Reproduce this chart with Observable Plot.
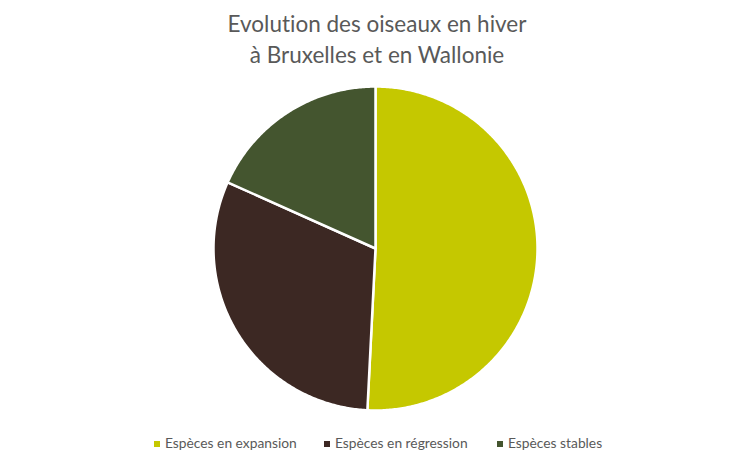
<!DOCTYPE html>
<html>
<head>
<meta charset="utf-8">
<script src="https://cdn.jsdelivr.net/npm/d3@7"></script>
<script src="https://cdn.jsdelivr.net/npm/@observablehq/plot@0.6"></script>
<style>
  html, body { margin: 0; padding: 0; background: #fff; }
  body { width: 754px; height: 466px; overflow: hidden; font-family: Lato, "Open Sans", sans-serif; font-variant-ligatures: none; font-feature-settings: "liga" 0; }
  #title { height: 78px; box-sizing: border-box; padding-top: 8px; text-align: center; color: #595959; font-size: 22.5px; line-height: 31px; }
  #chart { height: 336px; }
  #chart svg { display: block; }
  #legend { position: relative; height: 52px; font-size: 13.8px; color: #595959; }
  .item { position: absolute; top: 20px; white-space: nowrap; }
  .sw { display: inline-block; width: 6px; height: 6px; margin-right: 5px; vertical-align: 1px; }
</style>
</head>
<body>
<div id="title">Evolution des oiseaux en hiver<br>à Bruxelles et en Wallonie</div>
<div id="chart"></div>
<div id="legend"></div>
<script>
const categories = ["Espèces en expansion", "Espèces en régression", "Espèces stables"];
const values = [50.8, 30.9, 18.3];
const colors = ["#c5c800", "#3c2823", "#44552f"];
const legendX = [154, 324, 497];

const pie = d3.pie().sort(null).value(d => d.value);
const arcs = pie(categories.map((c, i) => ({ category: c, value: values[i] })));

// polygon points for each slice, in unit-circle coordinates (angle 0 at top, clockwise)
const pts = [];
arcs.forEach(a => {
  const n = Math.max(2, Math.ceil((a.endAngle - a.startAngle) / 0.01));
  pts.push({ category: a.data.category, x: 0, y: 0 });
  for (let k = 0; k <= n; k++) {
    const t = a.startAngle + (a.endAngle - a.startAngle) * k / n;
    pts.push({ category: a.data.category, x: Math.sin(t), y: Math.cos(t) });
  }
  pts.push({ category: a.data.category, x: 0, y: 0 });
});

const chart = Plot.plot({
  width: 754,
  height: 336,
  marginLeft: 213,
  marginRight: 217,
  marginTop: 8,
  marginBottom: 4,
  x: { domain: [-1, 1], axis: null },
  y: { domain: [-1, 1], axis: null },
  color: { domain: categories, range: colors },
  style: { background: "#fff" },
  marks: [
    Plot.line(pts, {
      x: "x", y: "y", z: "category",
      fill: "category",
      stroke: "#fff",
      strokeWidth: 2.5,
      strokeLinejoin: "round",
      curve: "linear"
    })
  ]
});
document.getElementById("chart").appendChild(chart);

const legend = document.getElementById("legend");
categories.forEach((c, i) => {
  const d = document.createElement("div");
  d.className = "item";
  d.style.left = legendX[i] + "px";
  d.innerHTML = `<span class="sw" style="background:${colors[i]}"></span>${c}`;
  legend.appendChild(d);
});
</script>
</body>
</html>
